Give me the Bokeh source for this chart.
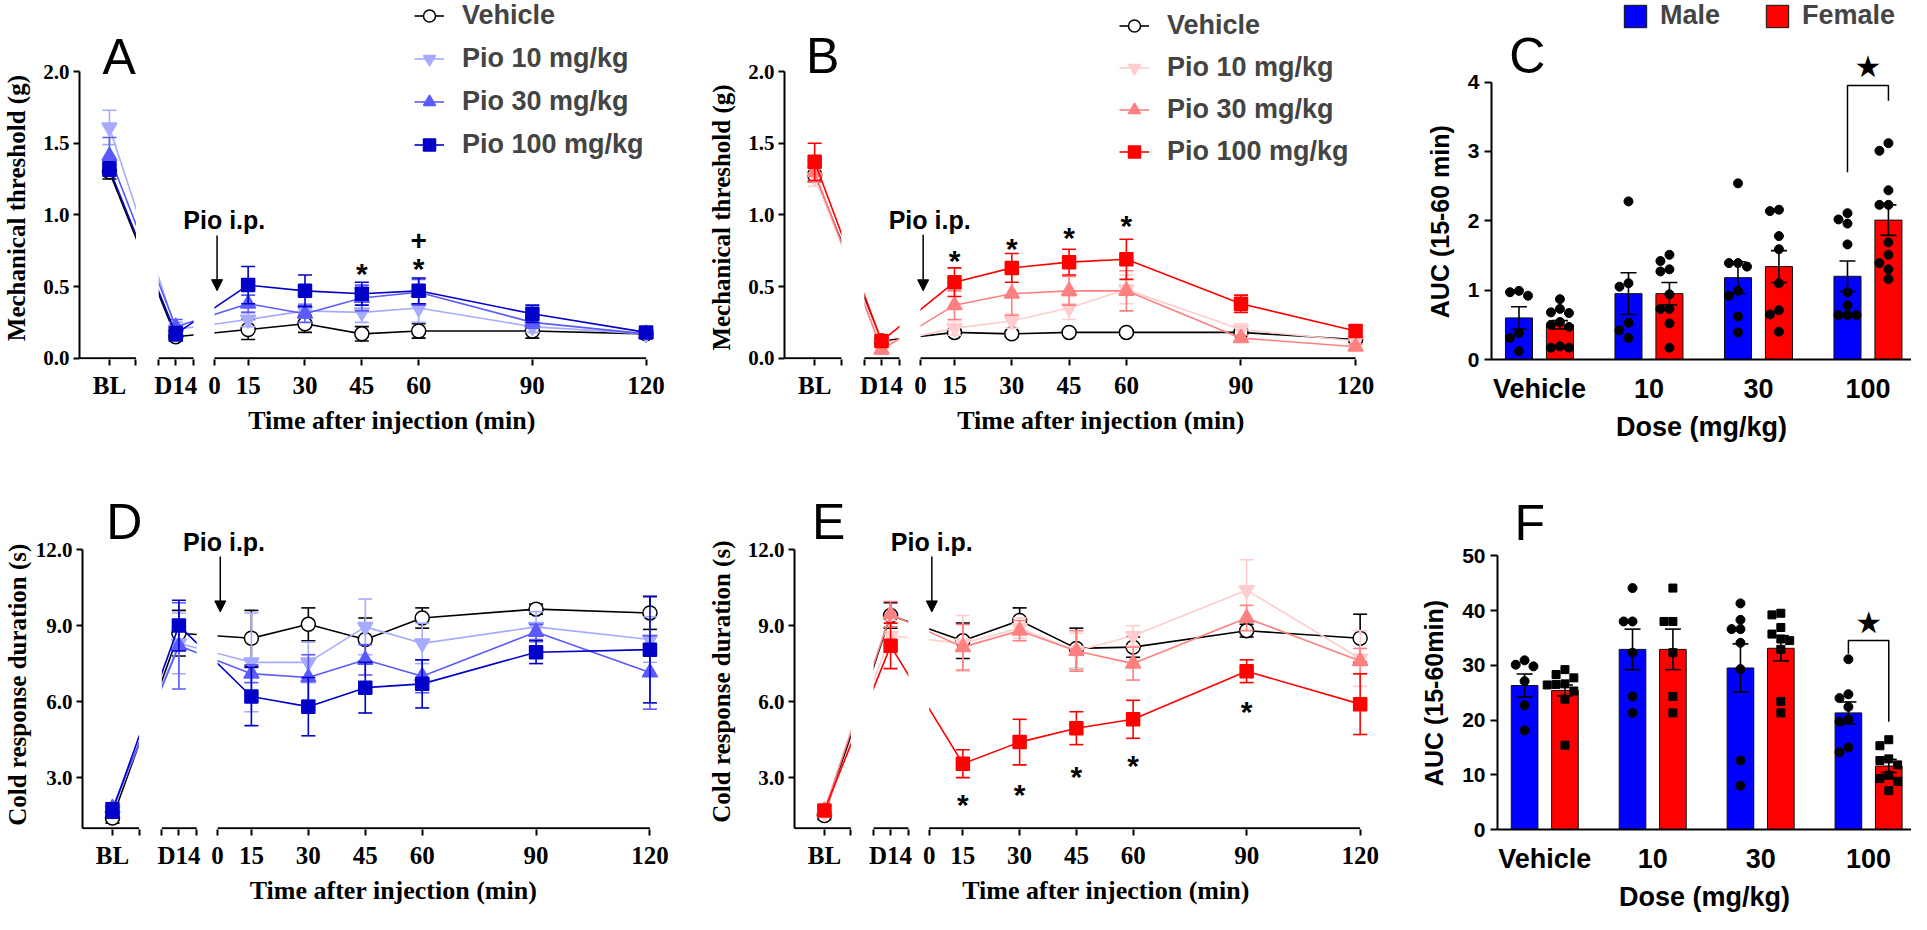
from bokeh.plotting import figure
from bokeh.models import (Range1d, FixedTicker, LinearAxis, Label, Arrow, NormalHead,
                          Legend, LegendItem, NumeralTickFormatter)
from bokeh.layouts import row, column
from bokeh.embed import file_html
from bokeh.resources import INLINE
from bokeh.core.properties import value

# ------------------------------------------------------------------ data
time_points = ["BL", "D14", "15", "30", "45", "60", "90", "120"]
groups = ["Vehicle", "Pio 10 mg/kg", "Pio 30 mg/kg", "Pio 100 mg/kg"]
doses = ["Vehicle", "10", "30", "100"]

# A: male, mechanical threshold (g)
A_veh = [1.30, 0.15, 0.20, 0.24, 0.17, 0.19, 0.19, 0.17]
A_veh_sem = [0.05, 0.03, 0.07, 0.06, 0.05, 0.05, 0.05, 0.02]
A_p10 = [1.61, 0.20, 0.27, 0.33, 0.32, 0.35, 0.22, 0.17]
A_p10_sem = [0.12, 0.05, 0.05, 0.05, 0.07, 0.10, 0.04, 0.02]
A_p30 = [1.41, 0.22, 0.38, 0.31, 0.42, 0.46, 0.25, 0.17]
A_p30_sem = [0.13, 0.05, 0.06, 0.06, 0.09, 0.09, 0.04, 0.02]
A_p100 = [1.32, 0.17, 0.51, 0.47, 0.45, 0.47, 0.31, 0.18]
A_p100_sem = [0.05, 0.05, 0.13, 0.11, 0.08, 0.09, 0.06, 0.02]

# B: female, mechanical threshold (g)
B_veh = [1.28, 0.12, 0.18, 0.17, 0.18, 0.18, 0.18, 0.13]
B_veh_sem = [0.05, 0.02, 0.02, 0.02, 0.02, 0.02, 0.02, 0.02]
B_p10 = [1.26, 0.10, 0.21, 0.26, 0.35, 0.48, 0.20, 0.12]
B_p10_sem = [0.06, 0.02, 0.05, 0.05, 0.08, 0.10, 0.04, 0.03]
B_p30 = [1.30, 0.06, 0.37, 0.45, 0.47, 0.47, 0.14, 0.08]
B_p30_sem = [0.07, 0.03, 0.10, 0.15, 0.10, 0.14, 0.02, 0.02]
B_p100 = [1.37, 0.12, 0.53, 0.63, 0.67, 0.69, 0.38, 0.19]
B_p100_sem = [0.13, 0.04, 0.10, 0.10, 0.09, 0.14, 0.06, 0.04]

# D: male, cold response duration (s)
D_veh = [1.40, 8.70, 8.50, 9.05, 8.45, 9.30, 9.65, 9.50]
D_veh_sem = [0.20, 0.90, 1.10, 0.65, 0.85, 0.40, 0.20, 0.65]
D_p10 = [1.70, 8.30, 7.55, 7.55, 8.95, 8.30, 8.95, 8.45]
D_p10_sem = [0.20, 1.20, 1.95, 0.80, 1.10, 0.80, 0.60, 0.90]
D_p30 = [1.80, 8.20, 7.10, 6.95, 7.65, 7.00, 8.75, 7.15]
D_p30_sem = [0.20, 1.70, 0.35, 0.90, 0.60, 0.65, 0.30, 1.45]
D_p100 = [1.70, 9.00, 6.20, 5.80, 6.55, 6.70, 7.95, 8.05]
D_p100_sem = [0.30, 1.00, 1.15, 1.15, 1.00, 0.95, 0.45, 2.10]

# E: female, cold response duration (s)
E_veh = [1.50, 9.40, 8.40, 9.20, 8.10, 8.15, 8.80, 8.50]
E_veh_sem = [0.15, 0.50, 0.70, 0.50, 0.80, 0.40, 0.25, 0.95]
E_p10 = [1.60, 8.60, 8.30, 8.90, 8.00, 8.60, 10.40, 7.70]
E_p10_sem = [0.15, 0.60, 1.10, 0.40, 0.70, 0.40, 1.20, 1.10]
E_p30 = [1.70, 9.45, 8.15, 8.80, 8.00, 7.50, 9.30, 7.60]
E_p30_sem = [0.15, 0.50, 0.90, 0.40, 0.80, 0.65, 0.50, 0.50]
E_p100 = [1.70, 8.20, 3.55, 4.40, 4.95, 5.30, 7.20, 5.90]
E_p100_sem = [0.20, 0.90, 0.55, 0.90, 0.65, 0.75, 0.45, 1.20]

# significance marks (time, height, symbol)
A_marks = [("45", 0.646, "*"), ("60", 0.68, "*"), ("60", 0.82, "+")]
B_marks = [("15", 0.737, "*"), ("30", 0.82, "*"), ("45", 0.898, "*"), ("60", 0.98, "*")]
E_marks = [("15", 2.27, "*"), ("30", 2.66, "*"), ("45", 3.35, "*"), ("60", 3.81, "*"), ("90", 5.94, "*")]

# C: AUC mechanical (15-60 min)
C_male_mean = [0.60, 0.95, 1.18, 1.20]
C_male_sem = [0.16, 0.30, 0.23, 0.22]
C_female_mean = [0.50, 0.95, 1.34, 2.01]
C_female_sem = [0.06, 0.16, 0.23, 0.22]
C_male_pts = [[0.99, 0.97, 0.92, 0.38, 0.31, 0.12],
              [2.28, 1.10, 1.05, 0.53, 0.42, 0.31],
              [2.54, 1.39, 1.39, 1.34, 0.99, 0.92, 0.62, 0.39],
              [2.11, 2.02, 1.96, 1.66, 0.97, 0.78, 0.64, 0.64, 0.64]]
C_female_pts = [[0.87, 0.73, 0.68, 0.67, 0.54, 0.50, 0.47, 0.19, 0.17, 0.17],
                [1.51, 1.42, 1.30, 1.27, 0.94, 0.73, 0.73, 0.52, 0.17],
                [2.16, 2.14, 1.78, 1.59, 1.10, 0.71, 0.65, 0.40],
                [3.12, 3.01, 2.44, 2.23, 2.23, 1.69, 1.51, 1.39, 1.30, 1.16]]
C_bracket = [2.70, 3.95, 3.73]
C_star = 4.22

# F: AUC cold (15-60 min)
F_male_mean = [26.3, 32.9, 29.5, 21.3]
F_male_sem = [2.1, 3.7, 4.4, 2.0]
F_female_mean = [25.4, 32.9, 33.1, 11.6]
F_female_sem = [1.0, 3.7, 2.3, 1.2]
F_male_pts = [[30.9, 30.1, 29.8, 27.1, 22.7, 18.1],
              [44.1, 38.0, 38.0, 32.3, 24.3, 21.3],
              [41.3, 38.3, 36.6, 36.6, 34.1, 29.3, 12.6, 8.0],
              [31.1, 24.7, 24.0, 22.4, 20.1, 19.7, 15.0, 14.1]]
F_female_pts = [[29.2, 28.3, 27.7, 26.6, 26.5, 26.4, 25.3, 23.8, 15.4],
                [44.1, 38.0, 38.0, 32.3, 24.3, 21.3],
                [39.5, 39.2, 36.9, 35.7, 34.8, 34.5, 32.9, 23.4, 21.3],
                [16.4, 15.3, 12.9, 12.6, 11.8, 9.9, 9.3, 8.8, 7.1]]
F_bracket = [32.1, 34.5, 19.7]
F_star = 37.8

# ------------------------------------------------------------------ layout / style
BLUES = ["black", "#a6abff", "#5a5aff", "#0000c8"]
REDS = ["black", "#ffcdcd", "#ff8080", "#ff0000"]
MARKERS = ["circle", "inverted_triangle", "triangle", "square"]
MARKER_SIZES = [14, 15, 15, 13]

PX_PER_MIN = 3.82
X_MIN = -29.5
BL_X, BL_END, D14_START, D14_X, D14_END, ZERO_X = -21.6, -14.6, -8.6, -4.1, 0.6, 6.1
TIME_X = {"BL": BL_X, "D14": D14_X}
for t in time_points[2:]:
    TIME_X[t] = float(t)

SERIF = "Liberation Serif"
SANS = "Liberation Sans"
NBSP = "\u00a0"


def style_axis(ax, font, label_size, title_size, tick_out, label_standoff, title_standoff):
    ax.axis_line_width = 2
    ax.axis_line_color = "black"
    ax.major_tick_line_width = 2
    ax.major_tick_out = tick_out
    ax.major_tick_in = 0
    ax.minor_tick_out = 0
    ax.minor_tick_in = 0
    ax.major_label_text_font = font
    ax.major_label_text_font_style = "bold"
    ax.major_label_text_font_size = label_size
    ax.major_label_text_color = "black"
    ax.axis_label_text_font = font
    ax.axis_label_text_font_style = "bold"
    ax.axis_label_text_font_size = title_size
    ax.axis_label_text_color = "black"
    ax.major_label_standoff = label_standoff
    ax.axis_label_standoff = title_standoff


def line_panel(fig_w, fig_h, b_left, b_bottom, y_lo, y_hi, y_pad, px_per_y, y_ticks, y_fmt,
               y_title, title_pad, means, sems, colors, left_title_standoff, letter, letter_xy,
               ip_xy, arrow_y, marks, legend_loc=None, legend_spacing=12):
    frame_w = fig_w - b_left
    frame_h = fig_h - b_bottom
    p = figure(width=fig_w, height=fig_h,
               x_range=Range1d(X_MIN, X_MIN + frame_w / PX_PER_MIN),
               y_range=Range1d(y_lo - y_pad, y_lo - y_pad + frame_h / px_per_y),
               x_axis_type=None, y_axis_type=None, output_backend="svg", toolbar_location=None,
               min_border_left=b_left, min_border_right=0, min_border_top=0,
               min_border_bottom=b_bottom)
    p.outline_line_color = None
    p.background_fill_color = "white"
    p.border_fill_color = "white"

    xs = [TIME_X[t] for t in time_points]
    items = []
    for name, m, s, c, mk, sz in zip(groups, means, sems, colors, MARKERS, MARKER_SIZES):
        lo = [a - b for a, b in zip(m, s)]
        hi = [a + b for a, b in zip(m, s)]
        lr = p.line(xs, m, line_color=c, line_width=1.6)
        p.segment(xs, lo, xs, hi, line_color=c, line_width=1.6)
        p.scatter(xs, lo, marker="dash", size=14, line_color=c, line_width=1.6)
        p.scatter(xs, hi, marker="dash", size=14, line_color=c, line_width=1.6)
        fill = "white" if name == "Vehicle" else c
        sr = p.scatter(xs, m, marker=mk, size=sz, fill_color=fill, line_color=c, line_width=1.5)
        items.append(LegendItem(label=name, renderers=[lr, sr]))

    # broken x axis: mask the gaps, then draw the three axis pieces
    y_top = y_lo - y_pad + frame_h / px_per_y
    p.quad(left=[BL_END, D14_END], right=[D14_START, ZERO_X],
           bottom=[y_lo - y_pad] * 2, top=[y_top] * 2, fill_color="white", line_color=None)
    p.segment(x0=[X_MIN, D14_START, ZERO_X], y0=[y_lo] * 3, x1=[BL_END, D14_END, 120.0],
              y1=[y_lo] * 3, line_color="black", line_width=2)

    # significance marks
    stars = [mk for mk in marks if mk[2] == "*"]
    plus = [mk for mk in marks if mk[2] != "*"]
    if stars:
        p.text(x=[TIME_X[t] for t, _, _ in stars], y=[h for _, h, _ in stars],
               text=[s for _, _, s in stars], text_font=value(SANS), text_font_style="bold",
               text_font_size="30px", text_align="center", text_baseline="middle",
               y_offset=8, text_color="black")
    if plus:
        p.text(x=[TIME_X[t] for t, _, _ in plus], y=[h for _, h, _ in plus],
               text=[s for _, _, s in plus], text_font=value(SANS), text_font_style="bold",
               text_font_size="28px", text_align="center", text_baseline="middle",
               text_color="black")

    yax = LinearAxis(ticker=FixedTicker(ticks=y_ticks), formatter=NumeralTickFormatter(format=y_fmt),
                     bounds=(y_lo, y_hi), axis_label=y_title + NBSP * title_pad)
    style_axis(yax, SERIF, "21px", "25px", 6, 4, left_title_standoff)
    p.add_layout(yax, "left")

    xticks = [BL_X, BL_END, D14_START, D14_X, D14_END, ZERO_X, 15, 30, 45, 60, 90, 120]
    overrides = {BL_X: "BL", BL_END: "", D14_START: "", D14_X: "D14", D14_END: "", ZERO_X: "0"}
    xax = LinearAxis(ticker=FixedTicker(ticks=xticks), major_label_overrides=overrides,
                     axis_label="Time after injection (min)")
    style_axis(xax, SERIF, "25px", "26px", 6, 6, 4)
    xax.axis_line_color = None
    p.add_layout(xax, "below")

    if legend_loc is not None:
        legend = Legend(items=items, location=legend_loc, orientation="vertical",
                        label_text_font=SANS, label_text_font_style="bold",
                        label_text_font_size="27px",
                        glyph_width=30, glyph_height=31, label_height=31, label_standoff=18,
                        spacing=legend_spacing, padding=0, margin=0,
                        border_line_color=None, background_fill_alpha=0)
        p.add_layout(legend)

    p.add_layout(Label(x=ip_xy[0], y=ip_xy[1], text="Pio i.p.", text_font=SANS,
                       text_font_style="bold", text_font_size="25px", text_align="center",
                       text_baseline="middle", text_color="black"))
    p.add_layout(Arrow(end=NormalHead(size=11, fill_color="black", line_color="black"),
                       x_start=ZERO_X + 0.7, y_start=arrow_y[0], x_end=ZERO_X + 0.7, y_end=arrow_y[1],
                       line_color="black", line_width=1.5))
    p.add_layout(Label(x=letter_xy[0], y=letter_xy[1], text=letter, text_font=SANS,
                       text_font_size="50px", text_align="center", text_baseline="alphabetic",
                       text_color="black"))
    return p


BAR_PX_PER_GROUP = 109.5
BAR_X_MIN = -0.438
BAR_OFFSET = 0.187
BAR_W = 0.247
DOT_PX = 9


def swarm(vals, dy, dx):
    placed, offs = [], []
    for v in vals:
        chosen = 0.0
        for k in [0, -1, 1, -2, 2, -3, 3]:
            o = k * dx
            if all(abs(v - pv) >= dy or abs(o - po) >= dx * 0.99 for pv, po in placed):
                chosen = o
                break
        placed.append((v, chosen))
        offs.append(chosen)
    return offs


def bar_panel(fig_w, fig_h, b_left, b_bottom, px_per_y, y_ticks, y_title, title_pad,
              male_mean, male_sem, female_mean, female_sem, male_pts, female_pts, female_marker,
              bracket, star_y, letter, letter_xy, legend_loc=None):
    frame_w = fig_w - b_left
    frame_h = fig_h - b_bottom
    p = figure(width=fig_w, height=fig_h,
               x_range=Range1d(BAR_X_MIN, BAR_X_MIN + frame_w / BAR_PX_PER_GROUP),
               y_range=Range1d(0, frame_h / px_per_y),
               x_axis_type=None, y_axis_type=None, output_backend="svg", toolbar_location=None,
               min_border_left=b_left, min_border_right=0, min_border_top=0,
               min_border_bottom=b_bottom)
    p.outline_line_color = None
    p.background_fill_color = "white"
    p.border_fill_color = "white"

    gx = list(range(len(doses)))
    xm = [g - BAR_OFFSET for g in gx]
    xf = [g + BAR_OFFSET for g in gx]
    rm = p.vbar(x=xm, top=male_mean, width=BAR_W, bottom=0, fill_color="#0000ff",
                line_color="#101010", line_width=1)
    rf = p.vbar(x=xf, top=female_mean, width=BAR_W, bottom=0, fill_color="#ff0000",
                line_color="#101010", line_width=1)

    dy = DOT_PX / px_per_y
    dx = DOT_PX / BAR_PX_PER_GROUP
    for centers, pts, mk in ((xm, male_pts, "circle"), (xf, female_pts, female_marker)):
        px, py = [], []
        for c, vals in zip(centers, pts):
            offs = swarm(vals, dy, dx)
            px += [c + o for o in offs]
            py += vals
        p.scatter(px, py, marker=mk, size=DOT_PX if mk == "circle" else DOT_PX - 1,
                  fill_color="black", line_color="black")

    for centers, m, s in ((xm, male_mean, male_sem), (xf, female_mean, female_sem)):
        lo = [a - b for a, b in zip(m, s)]
        hi = [a + b for a, b in zip(m, s)]
        p.segment(centers, lo, centers, hi, line_color="black", line_width=1.6)
        p.scatter(centers, lo, marker="dash", size=16, line_color="black", line_width=1.6)
        p.scatter(centers, hi, marker="dash", size=16, line_color="black", line_width=1.6)

    k = len(doses) - 1
    p.line([xm[k], xm[k], xf[k], xf[k]], [bracket[0], bracket[1], bracket[1], bracket[2]],
           line_color="black", line_width=1.5)
    p.add_layout(Label(x=gx[k], y=star_y, text="\u2605", text_font="DejaVu Sans",
                       text_font_size="30px", text_align="center", text_baseline="middle",
                       text_color="black"))

    yax = LinearAxis(ticker=FixedTicker(ticks=y_ticks), bounds=(0, y_ticks[-1]),
                     axis_label=y_title + NBSP * title_pad)
    style_axis(yax, SANS, "21px", "25px", 7, 5, 11)
    p.add_layout(yax, "left")

    xax = LinearAxis(ticker=FixedTicker(ticks=gx),
                     major_label_overrides={g: d for g, d in zip(gx, doses)},
                     axis_label="Dose (mg/kg)")
    style_axis(xax, SANS, "27px", "27px", 0, 14, 5)
    p.add_layout(xax, "below")

    if legend_loc is not None:
        lg = Legend(items=[LegendItem(label="Male", renderers=[rm]),
                           LegendItem(label="Female", renderers=[rf])],
                    location=legend_loc, orientation="horizontal",
                    label_text_font=SANS, label_text_font_style="bold", label_text_font_size="27px",
                    glyph_width=28, glyph_height=28, label_height=28, label_standoff=11,
                    spacing=43, padding=0, margin=0, border_line_color=None,
                    background_fill_alpha=0)
        p.add_layout(lg)

    p.add_layout(Label(x=letter_xy[0], y=letter_xy[1], text=letter, text_font=SANS,
                       text_font_size="50px", text_align="center", text_baseline="alphabetic",
                       text_color="black"))
    return p


TOP_H, BOT_H = 452, 462

pA = line_panel(704, TOP_H, 74, 93, 0.0, 2.0, 0.009, 143.35, [0, 0.5, 1.0, 1.5, 2.0], "0.0",
                "Mechanical threshold (g)", 9,
                [A_veh, A_p10, A_p30, A_p100], [A_veh_sem, A_p10_sem, A_p30_sem, A_p100_sem],
                BLUES, 10, "A", (-19.0, 2.098), (8.7, 0.967), (0.856, 0.471), A_marks,
                legend_loc=(335, 199), legend_spacing=12)
pB = line_panel(713, TOP_H, 80, 93, 0.0, 2.0, 0.009, 143.35, [0, 0.5, 1.0, 1.5, 2.0], "0.0",
                "Mechanical threshold (g)", 12,
                [B_veh, B_p10, B_p30, B_p100], [B_veh_sem, B_p10_sem, B_p30_sem, B_p100_sem],
                REDS, 10, "B", (-19.5, 2.11), (8.5, 0.967), (0.862, 0.47), B_marks,
                legend_loc=(335, 192), legend_spacing=11)
pC = bar_panel(494, TOP_H, 74, 87, 70.5, [0, 1, 2, 3, 4], "AUC (15-60 min)", 12,
               C_male_mean, C_male_sem, C_female_mean, C_female_sem, C_male_pts, C_female_pts,
               "circle", C_bracket, C_star, "C", (-0.11, 4.37), legend_loc=(130, 328))

pD = line_panel(704, BOT_H, 78, 75, 1.0, 12.0, 0.05, 26.0, [3, 6, 9, 12], "0.0",
                "Cold response duration (s)", 14,
                [D_veh, D_p10, D_p30, D_p100], [D_veh_sem, D_p10_sem, D_p30_sem, D_p100_sem],
                BLUES, 2, "D", (-18.5, 13.08), (7.8, 12.31), (11.73, 9.54), [])
pE = line_panel(713, BOT_H, 84, 75, 1.0, 12.0, 0.05, 26.0, [3, 6, 9, 12], "0.0",
                "Cold response duration (s)", 13,
                [E_veh, E_p10, E_p30, E_p100], [E_veh_sem, E_p10_sem, E_p30_sem, E_p100_sem],
                REDS, 10, "E", (-20.5, 13.08), (6.8, 12.31), (11.73, 9.54), E_marks)
pF = bar_panel(494, BOT_H, 74, 75, 5.62, [0, 10, 20, 30, 40, 50], "AUC (15-60min)", 15,
               F_male_mean, F_male_sem, F_female_mean, F_female_sem, F_male_pts, F_female_pts,
               "square", F_bracket, F_star, "F", (-0.14, 55.9))

layout = column(row(pA, pB, pC), row(pD, pE, pF))
open("out.html", "w").write(file_html(layout, INLINE))
